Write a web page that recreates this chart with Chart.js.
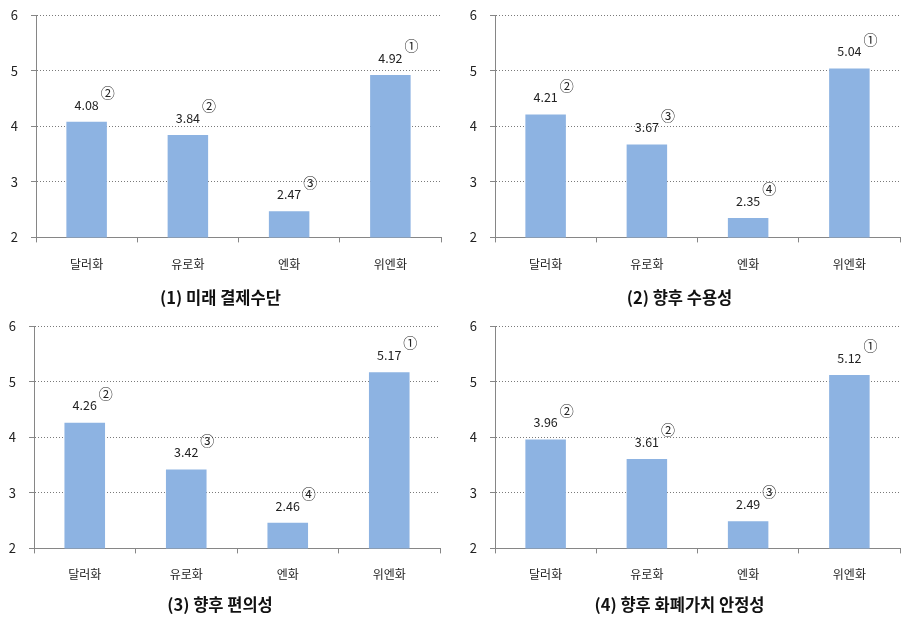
<!DOCTYPE html>
<html>
<head>
<meta charset="utf-8">
<script src="https://cdn.jsdelivr.net/npm/chart.js@4"></script>
<style>
  html, body { margin: 0; padding: 0; background: #fff; }
  body { width: 917px; height: 620px; position: relative; overflow: hidden; }
  .panel { position: absolute; }
</style>
</head>
<body>
<div class="panel" id="p1" style="left:0px;top:0px;width:458px;height:310px;"><canvas id="c1"></canvas></div>
<div class="panel" id="p2" style="left:459px;top:0px;width:458px;height:310px;"><canvas id="c2"></canvas></div>
<div class="panel" id="p3" style="left:0px;top:311px;width:458px;height:309px;"><canvas id="c3"></canvas></div>
<div class="panel" id="p4" style="left:459px;top:311px;width:458px;height:309px;"><canvas id="c4"></canvas></div>
<script>
// ---- data ----
const categories = ['달러화', '유로화', '엔화', '위엔화'];
const yTicks = [2, 3, 4, 5, 6];

const title1 = '(1) 미래 결제수단';
const values1 = [4.08, 3.84, 2.47, 4.92];
const ranks1 = ['②', '②', '③', '①'];

const title2 = '(2) 향후 수용성';
const values2 = [4.21, 3.67, 2.35, 5.04];
const ranks2 = ['②', '③', '④', '①'];

const title3 = '(3) 향후 편의성';
const values3 = [4.26, 3.42, 2.46, 5.17];
const ranks3 = ['②', '③', '④', '①'];

const title4 = '(4) 향후 화폐가치 안정성';
const values4 = [3.96, 3.61, 2.49, 5.12];
const ranks4 = ['②', '②', '③', '①'];

// ---- styling ----
const FONT = "'Noto Sans CJK KR', 'Noto Sans', sans-serif";
const BAR_COLOR = '#8DB3E2';
const AXIS_COLOR = '#868686';
const GRID_COLOR = '#7a7a7a';
const TEXT_COLOR = '#222';

const labelPlugin = {
  id: 'valueRankLabels',
  afterDatasetsDraw(chart) {
    const ctx = chart.ctx;
    const ds = chart.data.datasets[0];
    const meta = chart.getDatasetMeta(0);
    const ranks = chart.options.plugins.valueRankLabels.ranks;
    ctx.save();
    ctx.fillStyle = TEXT_COLOR;
    ctx.textAlign = 'center';
    ctx.textBaseline = 'middle';
    meta.data.forEach((bar, i) => {
      ctx.font = "12.5px " + FONT;
      ctx.fillText(ds.data[i].toFixed(2), bar.x, bar.y - 17);
      ctx.font = "14px " + FONT;
      ctx.fillText(ranks[i], bar.x + 21, bar.y - 29);
    });
    ctx.restore();
  }
};

function makeChart(id, title, values, ranks, geo) {
  return new Chart(document.getElementById(id), {
    type: 'bar',
    data: {
      labels: categories,
      datasets: [{
        data: values,
        backgroundColor: BAR_COLOR,
        borderWidth: 0,
        categoryPercentage: 1.0,
        barPercentage: 0.4
      }]
    },
    plugins: [labelPlugin],
    options: {
      responsive: true,
      maintainAspectRatio: false,
      animation: false,
      events: [],
      layout: { padding: { left: 0, right: geo.padRight, top: 15, bottom: 0 } },
      plugins: {
        legend: { display: false },
        tooltip: { enabled: false },
        valueRankLabels: { ranks: ranks },
        title: {
          display: true,
          text: title,
          position: 'bottom',
          color: '#111',
          font: { family: FONT, size: 16.5, weight: 'bold', lineHeight: 1.2 },
          padding: { top: 0, bottom: geo.titlePadBottom }
        }
      },
      scales: {
        x: {
          afterFit(scale) { scale.height = geo.xHeight; },
          grid: {
            display: true,
            offset: true,
            drawOnChartArea: false,
            drawTicks: true,
            tickLength: 5,
            color: AXIS_COLOR,
            tickColor: AXIS_COLOR
          },
          border: { display: true, color: AXIS_COLOR, width: 1 },
          ticks: {
            color: TEXT_COLOR,
            padding: geo.xLabelPad,
            font: { family: FONT, size: 12 },
            maxRotation: 0
          }
        },
        y: {
          min: 2,
          max: 6,
          afterFit(scale) {
            scale.width = geo.axisLeft;
            scale.paddingTop = 0;
            scale.paddingBottom = 0;
          },
          afterBuildTicks(scale) { scale.ticks = yTicks.map(v => ({ value: v })); },
          grid: {
            display: true,
            drawTicks: true,
            tickLength: 5,
            color: GRID_COLOR,
            tickColor: AXIS_COLOR,
            tickBorderDash: [],
            lineWidth: 1
          },
          border: { display: true, color: AXIS_COLOR, width: 1, dash: [1, 2] },
          ticks: {
            color: TEXT_COLOR,
            padding: 13,
            stepSize: 1,
            font: { family: FONT, size: 13 }
          }
        }
      }
    }
  });
}

makeChart('c1', title1, values1, ranks1, { axisLeft: 36, padRight: 17, xHeight: 50.4, titlePadBottom: 2.4, xLabelPad: 15 });
makeChart('c2', title2, values2, ranks2, { axisLeft: 36, padRight: 17, xHeight: 50.4, titlePadBottom: 2.4, xLabelPad: 15 });
makeChart('c3', title3, values3, ranks3, { axisLeft: 34, padRight: 18, xHeight: 46.4, titlePadBottom: 5.4, xLabelPad: 14 });
makeChart('c4', title4, values4, ranks4, { axisLeft: 36, padRight: 17, xHeight: 46.4, titlePadBottom: 5.4, xLabelPad: 14 });
</script>
</body>
</html>
